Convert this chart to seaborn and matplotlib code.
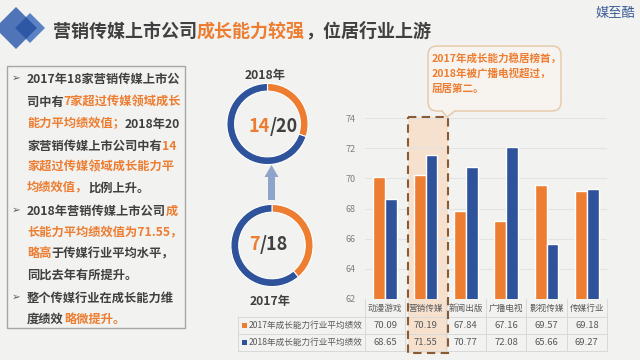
import numpy as np
import pandas as pd
import seaborn as sns
import matplotlib
matplotlib.use("Agg")
import matplotlib.pyplot as plt
from matplotlib.patches import Rectangle, Polygon, FancyBboxPatch
from matplotlib.lines import Line2D
from matplotlib.transforms import Affine2D

# ---------------- data ----------------
categories = ['动漫游戏', '营销传媒', '新闻出版', '广播电视', '影视传媒', '传媒行业']
perf_2017 = [70.09, 70.19, 67.84, 67.16, 69.57, 69.18]
perf_2018 = [68.65, 71.55, 70.77, 72.08, 65.66, 69.27]
series_names = ['2017年成长能力行业平均绩效', '2018年成长能力行业平均绩效']
yticks = [62, 64, 66, 68, 70, 72, 74]
ring_years = ['2018年', '2017年']
ring_orange = [6, 7]      # orange share as drawn
ring_blue = [14, 11]
ring_text = [('14', '/20'), ('7', '/18')]

title_segs = [('营销传媒上市公司', 'D'), ('成长能力较强', 'O'), ('，位居行业上游', 'D')]
callout_lines = ['2017年成长能力稳居榜首，', '2018年被广播电视超过，', '屈居第二。']
panel_lines = [
    (78, True, [('2017年18家营销传媒上市公', 'D')]),
    (101, False, [('司中有', 'D'), ('7家超过传媒领域成长', 'O')]),
    (123, False, [('能力平均绩效值；', 'O'), ('2018年20', 'D')]),
    (145, False, [('家营销传媒上市公司中有', 'D'), ('14', 'O')]),
    (166, False, [('家超过传媒领域成长能力平', 'O')]),
    (187, False, [('均绩效值，', 'O'), ('比例上升。', 'D')]),
    (210, True, [('2018年营销传媒上市公司', 'D'), ('成', 'O')]),
    (232, False, [('长能力平均绩效值为71.55，', 'O')]),
    (253, False, [('略高', 'O'), ('于传媒行业平均水平，', 'D')]),
    (274, False, [('同比去年有所提升。', 'D')]),
    (297, True, [('整个传媒行业在成长能力维', 'D')]),
    (318, False, [('度绩效', 'D'), ('略微提升。', 'O')]),
]

# ---------------- style ----------------
BG = '#F2F2F0'
OR = '#ED7D31'
BL = '#2F539B'
DK = '#404040'
GR = '#595959'
COL = {'D': DK, 'O': OR}
FAM = ['Noto Sans CJK SC', 'DejaVu Sans']

sns.set_theme(style='white')
plt.rcParams['font.family'] = FAM

W, H = 640, 360
fig = plt.figure(figsize=(6.4, 3.6), dpi=100, facecolor=BG)
# pixel transform, y downwards
PXT = Affine2D().scale(1, -1).translate(0, H).scale(0.01) + fig.dpi_scale_trans
renderer = fig.canvas.get_renderer()


def width(s, size, weight):
    if not s:
        return 0.0
    t = fig.text(0, 0, s, fontsize=size, weight=weight, family=FAM)
    w = t.get_window_extent(renderer).width
    t.remove()
    return w


def rich(x, y, segs, size, weight='bold', ha='left', zorder=5):
    full = ''.join(s for s, _ in segs)
    if ha == 'center':
        x -= width(full, size, weight) / 2
    base = y + 0.37 * size * 100 / 72
    prefix = ''
    for s, c in segs:
        off = width(prefix + s, size, weight) - width(s, size, weight) if prefix else 0.0
        fig.text(x + off, base, s, color=c, fontsize=size,
                 weight=weight, va='baseline', ha='left', transform=PXT,
                 family=FAM, zorder=zorder)
        prefix += s


# ---------------- header ----------------
fig.add_artist(Polygon([(-5, 28), (16, 7), (37, 28), (16, 49)], closed=True,
                       facecolor='#4F74B8', edgecolor='none', transform=PXT))
fig.add_artist(Polygon([(15, 28), (30, 13), (45, 28), (30, 43)], closed=True,
                       facecolor='#5A82C4', edgecolor='none', transform=PXT))
fig.add_artist(Polygon([(15, 28), (26, 17), (37, 28), (26, 39)], closed=True,
                       facecolor='#2E58A3', edgecolor='none', transform=PXT))
rich(53, 30, [(s, COL[c]) for s, c in title_segs], 13)
fig.text(615, 13, '媒至酷', color='#3D5E95', fontsize=9.5, ha='center',
         va='center', transform=PXT, family=FAM)

# ---------------- left panel ----------------
fig.add_artist(Rectangle((7, 66), 178, 262, facecolor='none',
                         edgecolor='#A6A6A6', lw=1, transform=PXT))
for y, bullet, segs in panel_lines:
    if bullet:
        fig.text(12, y, '➢', color='#595959', fontsize=7.5, va='center',
                 transform=PXT, family=['DejaVu Sans'])
    rich(27, y, [(s, COL[c]) for s, c in segs], 8.8)

# ---------------- rings ----------------
ring_geo = [(267.5, 124, 41), (272, 245.5, 41.5)]
text_left = [249, 249]
text_y = [125, 243]
label_pos = [(265, 75), (270, 302)]
for i in range(2):
    cx, cy, R = ring_geo[i]
    rax = fig.add_axes([(cx - R) / W, 1 - (cy + R) / H, 2 * R / W, 2 * R / H])
    rax.pie([ring_orange[i], ring_blue[i]], colors=[OR, BL], startangle=90,
            counterclock=False,
            wedgeprops=dict(width=0.19, edgecolor='white', linewidth=0.8))
    rax.set_xlim(-1.01, 1.01)
    rax.set_ylim(-1.01, 1.01)
    rax.set_aspect('auto')
    rax.axis('off')
    a, b = ring_text[i]
    rich(text_left[i], text_y[i], [(a, OR), (b, DK)], 13)
    fig.text(label_pos[i][0], label_pos[i][1], ring_years[i], color=DK,
             fontsize=8.8, weight='bold', ha='center', va='center',
             transform=PXT, family=FAM)

fig.add_artist(Polygon([(268, 200), (275, 200), (275, 177), (278.5, 177),
                        (271.5, 165), (264.5, 177), (268, 177)], closed=True,
                       facecolor='#8EA4CB', edgecolor='none', transform=PXT))

# ---------------- bar chart ----------------
ax = fig.add_axes([365 / W, 1 - 299 / H, (607 - 365) / W, (299 - 118) / H])
ax.patch.set_alpha(0)
df = pd.DataFrame({
    'cat': categories * 2,
    'val': perf_2017 + perf_2018,
    'series': [series_names[0]] * len(categories) + [series_names[1]] * len(categories),
})
sns.barplot(data=df, x='cat', y='val', hue='series', palette=[OR, BL],
            width=0.58, saturation=1, ax=ax, legend=False, gap=0)
ax.set_ylim(62, 74)
ax.set_yticks(yticks)
ax.set_xlim(-0.5, len(categories) - 0.5)
ax.set_xticks([])
ax.set_xlabel('')
ax.set_ylabel('')
ax.yaxis.grid(True, color='#E3E3E3', lw=0.8)
ax.set_axisbelow(True)
for sp in ax.spines.values():
    sp.set_visible(False)
ax.tick_params(axis='y', labelsize=6.5, labelcolor='#7F7F7F', length=0, pad=7)

# highlight box
fig.add_artist(Rectangle((408, 117), 40, 236, facecolor='#F6E0CE',
                         edgecolor='none', transform=PXT, zorder=-1))
fig.add_artist(Rectangle((408, 117), 40, 236, facecolor='none',
                         edgecolor='#8A5A32', lw=1.5, linestyle=(0, (4, 2.6)),
                         transform=PXT, zorder=6))

# callout
fig.add_artist(FancyBboxPatch((428, 46), 133, 65,
                              boxstyle='round,pad=0,rounding_size=9',
                              facecolor='#F7F3EE', edgecolor='#E6C7A6', lw=1,
                              transform=PXT, zorder=4))
fig.add_artist(Polygon([(442, 110), (455, 110), (447, 117)], closed=True,
                       facecolor='#F7F3EE', edgecolor='none', transform=PXT,
                       zorder=4.5))
fig.add_artist(Line2D([442, 447, 455], [111, 117, 111], color='#E6C7A6', lw=1,
                      transform=PXT, zorder=4.6))
for k, s in enumerate(callout_lines):
    fig.text(432, 58 + k * 15.5, s, color=OR, fontsize=7.6, weight='bold',
             va='center', transform=PXT, family=FAM, zorder=7)

# table
colw = (607 - 365) / len(categories)
LC = '#D9D9D9'
for yy in [317, 334, 351]:
    fig.add_artist(Line2D([238, 607], [yy, yy], color=LC, lw=0.7, transform=PXT))
for k in range(len(categories) + 1):
    xx = 365 + k * colw
    fig.add_artist(Line2D([xx, xx], [299, 351], color=LC, lw=0.7, transform=PXT))
fig.add_artist(Line2D([238, 238], [317, 351], color=LC, lw=0.7, transform=PXT))
row_y = [325.5, 342.5]
for k, cat in enumerate(categories):
    xc = 365 + (k + 0.5) * colw
    fig.text(xc, 308, cat, color=GR, fontsize=6.2, ha='center', va='center',
             transform=PXT, family=FAM)
    for r, vals in enumerate([perf_2017, perf_2018]):
        fig.text(xc, row_y[r], f'{vals[k]:.2f}', color=GR, fontsize=6.8,
                 ha='center', va='center', transform=PXT, family=FAM)
for r, (name, c) in enumerate(zip(series_names, [OR, BL])):
    fig.add_artist(Rectangle((241.5, row_y[r] - 2.5), 5, 5, facecolor=c,
                             edgecolor='none', transform=PXT))
    fig.text(249, row_y[r], name, color=GR, fontsize=6.2, va='center',
             transform=PXT, family=FAM)

fig.savefig('out.png', dpi=100, facecolor=BG)
